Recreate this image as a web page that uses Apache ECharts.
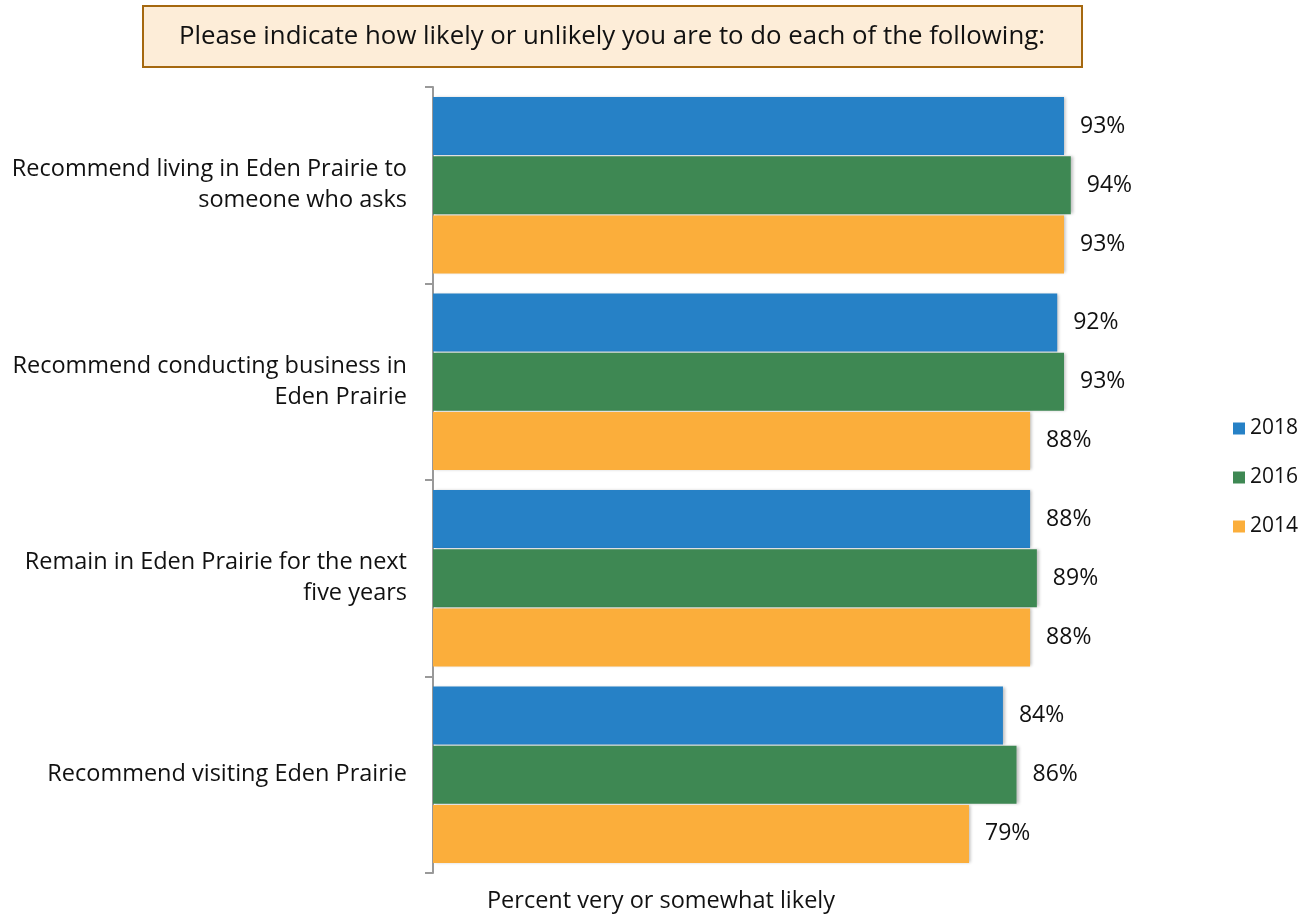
<!DOCTYPE html>
<html>
<head>
<meta charset="utf-8">
<script src="https://cdn.jsdelivr.net/npm/echarts@6/dist/echarts.min.js"></script>
<style>
html,body{margin:0;padding:0;background:#fff;}
#chart{width:1313px;height:915px;}
</style>
</head>
<body>
<div id="chart"></div>
<script>
const categories = [
  "Recommend living in Eden Prairie to\nsomeone who asks",
  "Recommend conducting business in\nEden Prairie",
  "Remain in Eden Prairie for the next\nfive years",
  "Recommend visiting Eden Prairie"
];
const seriesNames = ["2018", "2016", "2014"];
const values2018 = [93, 92, 88, 84];
const values2016 = [94, 93, 89, 86];
const values2014 = [93, 88, 88, 79];
const colors = ["#2681C6", "#3E8853", "#FBAE3B"];
const titleText = "Please indicate how likely or unlikely you are to do each of the following:";
const axisCaption = "Percent very or somewhat likely";

const FONT = "Open Sans";
const chart = echarts.init(document.getElementById('chart'), null, {renderer: 'canvas'});

function mkSeries(name, data, color) {
  return {
    name: name,
    type: 'bar',
    data: data,
    barWidth: 58,
    barGap: '2%',
    itemStyle: {
      color: color,
      shadowColor: 'rgba(0,0,0,0.25)',
      shadowBlur: 3,
      shadowOffsetX: 2,
      shadowOffsetY: 0
    },
    label: {
      show: true,
      position: 'right',
      distance: 16,
      formatter: '{c}%',
      fontFamily: FONT,
      fontSize: 23,
      color: '#111'
    },
    emphasis: {disabled: true}
  };
}

chart.setOption({
  animation: false,
  backgroundColor: '#fff',
  graphic: [
    {
      type: 'rect',
      shape: {x: 143, y: 6, width: 939, height: 61},
      style: {fill: '#FDEDD8', stroke: '#A5680F', lineWidth: 2},
      z: 1
    },
    {
      type: 'text',
      x: 612, y: 37,
      style: {
        text: titleText,
        fontFamily: FONT,
        fontSize: 25.8,
        fill: '#111',
        textAlign: 'center',
        textVerticalAlign: 'middle'
      },
      z: 2
    },
    {
      type: 'text',
      x: 661, y: 901,
      style: {
        text: axisCaption,
        fontFamily: FONT,
        fontSize: 23.5,
        fill: '#111',
        textAlign: 'center',
        textVerticalAlign: 'middle'
      },
      z: 2
    }
  ],
  legend: {
    orient: 'vertical',
    left: 1228,
    top: 413,
    itemWidth: 12,
    itemHeight: 12,
    itemGap: 28,
    icon: 'rect',
    data: seriesNames,
    textStyle: {fontFamily: FONT, fontSize: 21, color: '#111'}
  },
  grid: {left: 433, right: 201.5, top: 87, bottom: 42, containLabel: false},
  xAxis: {
    type: 'value',
    min: 0,
    max: 100,
    show: false
  },
  yAxis: {
    type: 'category',
    inverse: true,
    data: categories,
    axisLine: {show: true, lineStyle: {color: '#999', width: 2}},
    axisTick: {show: true, length: 8, lineStyle: {color: '#999', width: 2}},
    axisLabel: {
      fontFamily: FONT,
      fontSize: 23.5,
      color: '#111',
      margin: 26,
      lineHeight: 31,
      align: 'right'
    },
    splitLine: {show: false}
  },
  series: [
    mkSeries(seriesNames[0], values2018, colors[0]),
    mkSeries(seriesNames[1], values2016, colors[1]),
    mkSeries(seriesNames[2], values2014, colors[2])
  ]
});
</script>
</body>
</html>
